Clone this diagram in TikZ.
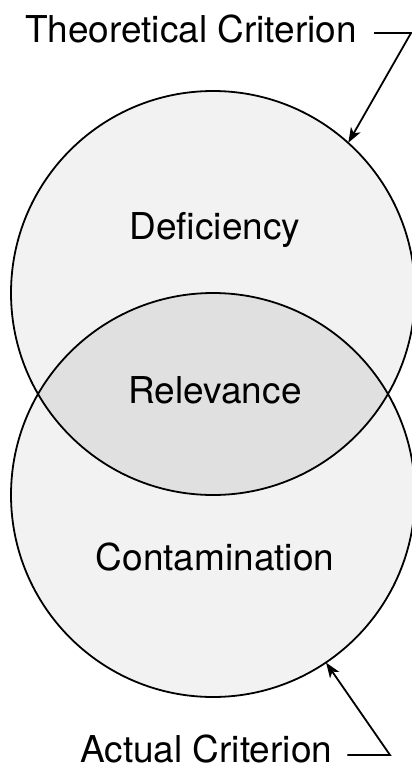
\documentclass[tikz,border=0pt]{standalone}
\usepackage{fontspec}
\setmainfont{TeX Gyre Heros}
\usepackage{tikz}
\usetikzlibrary{arrows.meta, positioning, calc}
\definecolor{vfill}{HTML}{F2F2F2}
\definecolor{vlens}{HTML}{E0E0E0}
\tikzset{
  >={Stealth[length=15pt, width=11pt, inset=4pt]},
  ring/.style={circle, minimum size=404pt, inner sep=0pt, draw=none},
  lbl/.style={font=\fontsize{37}{40}\selectfont, inner sep=0pt},
  ptr/.style={->, line width=1.8pt, draw=black}
}
\begin{document}
\begin{tikzpicture}[x=1pt, y=-1pt]
  \useasboundingbox (0,0) rectangle (412,772);
  % the two criterion circles
  \node[ring] (theo) at (213,293) {};
  \node[ring] (act) at (213,495) {};
  \fill[vfill] (theo.center) circle (202);
  \fill[vfill] (act.center) circle (202);
  \begin{scope}
    \clip (theo.center) circle (202);
    \fill[vlens] (act.center) circle (202);
  \end{scope}
  \draw[line width=1.8pt] (theo.center) circle (202);
  \draw[line width=1.8pt] (act.center) circle (202);
  % area labels
  \node[lbl, anchor=base] (defi) at (215,239) {Deficiency};
  \node[lbl, anchor=base] (relev) at (215,403) {Relevance};
  \node[lbl, anchor=base] (conta) at (215,570) {Contamination};
  % criterion labels and pointers
  \node[lbl, anchor=base west] (tlab) at (25,42) {Theoretical Criterion};
  \node[lbl, anchor=base west] (alab) at (80,762) {Actual Criterion};
  \coordinate (tbend) at (411,33);
  \coordinate (abend) at (390,755);
  \draw[ptr] ([xshift=17pt]tlab.east |- tbend) -- (tbend) -- (theo.48.6);
  \draw[ptr] ([xshift=15pt]alab.east |- abend) -- (abend) -- (act.-56.7);
\end{tikzpicture}
\end{document}
